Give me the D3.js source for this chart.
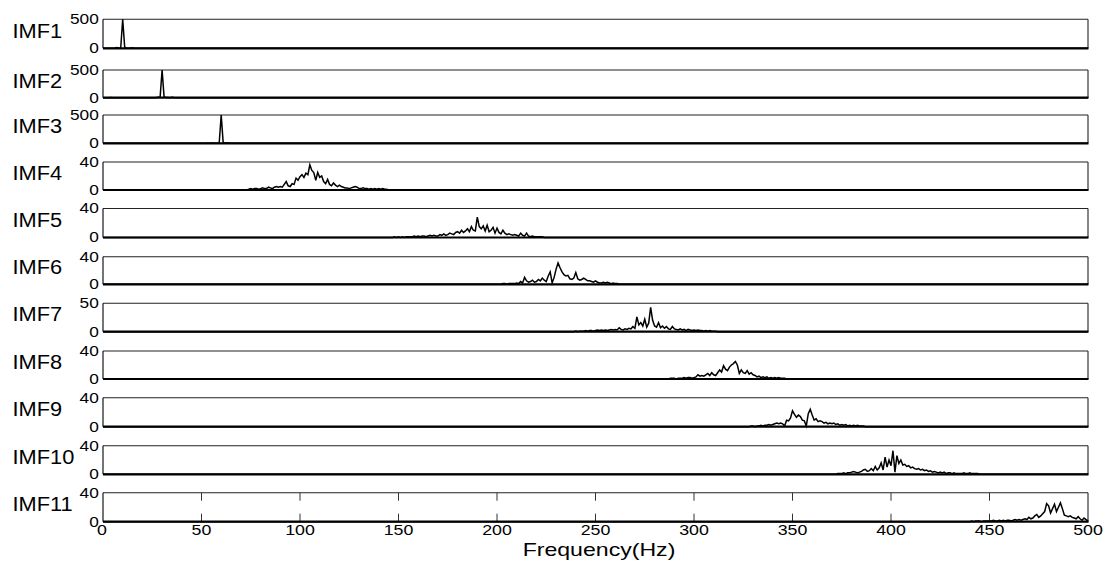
<!DOCTYPE html>
<html>
<head>
<meta charset="utf-8">
<script src="https://cdn.jsdelivr.net/npm/d3@7"></script>
<style>
  html, body { margin: 0; padding: 0; background: #fff; }
  svg { display: block; }
  text { font-family: "Liberation Sans", Arial, Helvetica, sans-serif; fill: #000; }
</style>
</head>
<body>
<svg id="chart" width="1103" height="565"></svg>
<script>
// ---------------- DATA ----------------
const imfNames = ["IMF1","IMF2","IMF3","IMF4","IMF5","IMF6","IMF7","IMF8","IMF9","IMF10","IMF11"];
const yTickTop = [500, 500, 500, 40, 40, 40, 50, 40, 40, 40, 40];
const xTicks = [0, 50, 100, 150, 200, 250, 300, 350, 400, 450, 500];
const xLabel = "Frequency(Hz)";

// spectra: start frequency (Hz) and amplitude values at 1 Hz steps (zero elsewhere)
const imf1Start = 4;
const imf1 = [0, 2, 5, 15, 5, 10, 500, 20, 3, 2, 4, 8, 3, 1, 0];
const imf2Start = 3;
const imf2 = [0, 5, 1, 0, 0, 0, 0, 0, 0, 0, 0, 0, 0, 0, 0, 0, 0, 0, 0, 0, 0, 0, 0, 1, 3, 8, 12, 500, 15, 3, 2, 1, 6, 2, 0];
const imf3Start = 51;
const imf3 = [0, 2, 6, 3, 7, 5, 2, 4, 10, 500, 12, 4, 8, 6, 2, 0];
const imf4Start = 74;
const imf4 = [1, 2, 1, 2, 2, 1, 2, 3, 2, 2, 4, 3, 2, 4, 5, 4, 5, 4, 8, 12, 6, 5, 9, 8, 17, 14, 19, 22, 18, 24,
              22, 36, 28, 25, 14, 25, 18, 20, 12, 9, 15, 8, 6, 10, 7, 5, 7, 5, 4, 3, 3, 2, 3, 4, 5, 4, 2, 2, 3, 2,
              2, 1, 2, 1, 2, 1, 2, 1, 2, 1, 1];
const imf5Start = 148;
const imf5 = [1, 0, 1, 0, 1, 0, 1, 1, 1, 1, 2, 1, 2, 1, 2, 2, 1, 2, 3, 2, 3, 2, 2, 4, 3, 5, 3, 4, 6, 5,
              4, 7, 8, 6, 10, 7, 9, 12, 8, 15, 10, 9, 28, 15, 12, 16, 9, 17, 8, 10, 14, 6, 13, 7, 5, 10, 6, 4, 5, 4,
              3, 4, 3, 2, 6, 3, 2, 6, 2, 1, 2, 1, 1, 1, 1, 1];
const imf6Start = 203;
const imf6 = [1, 1, 0, 1, 1, 1, 1, 2, 1, 4, 2, 10, 5, 3, 4, 6, 3, 4, 7, 5, 9, 6, 4, 12, 18, 2, 10, 22, 31, 24,
              18, 14, 12, 13, 8, 7, 9, 17, 8, 6, 7, 9, 7, 5, 5, 4, 3, 5, 3, 2, 2, 3, 2, 3, 2, 1, 2, 1, 1];
const imf7Start = 240;
const imf7 = [1, 0, 1, 1, 1, 2, 1, 2, 2, 1, 2, 3, 2, 3, 2, 3, 2, 3, 4, 3, 4, 3, 7, 4, 3, 5, 4, 6, 5, 9,
              6, 26, 12, 16, 10, 22, 8, 15, 43, 20, 10, 8, 16, 7, 10, 6, 9, 5, 4, 9, 5, 4, 3, 5, 3, 4, 2, 4, 3, 2,
              3, 2, 3, 2, 2, 1, 2, 1, 2, 1, 1, 1];
const imf8Start = 288;
const imf8 = [1, 1, 1, 0, 1, 1, 1, 2, 1, 2, 2, 1, 2, 3, 6, 4, 5, 4, 6, 8, 5, 9, 6, 5, 9, 13, 10, 19, 14, 12,
              17, 20, 22, 25, 20, 8, 13, 9, 8, 12, 7, 9, 6, 5, 3, 4, 2, 3, 2, 3, 1, 2, 1, 2, 1, 2, 1, 1, 1];
const imf9Start = 329;
const imf9 = [1, 1, 0, 1, 1, 2, 1, 2, 2, 3, 2, 3, 4, 5, 4, 5, 4, 1, 9, 8, 12, 22, 17, 13, 16, 14, 9, 8, 1, 18,
              24, 16, 9, 11, 7, 8, 7, 5, 6, 4, 5, 4, 5, 3, 4, 2, 3, 2, 3, 1, 2, 1, 2, 1, 2, 1, 1, 1];
const imf10Start = 373;
const imf10 = [1, 1, 1, 2, 1, 2, 2, 3, 4, 3, 2, 3, 4, 6, 7, 4, 5, 8, 5, 11, 6, 9, 16, 6, 24, 10, 20, 12, 33, 3,
               26, 15, 20, 13, 14, 11, 12, 9, 10, 8, 7, 8, 6, 7, 5, 6, 4, 5, 3, 4, 3, 2, 3, 2, 3, 1, 2, 2, 1, 2,
               1, 1, 1, 1, 2, 1, 1, 2, 1, 1, 1, 1];
const imf11Start = 441;
const imf11 = [1, 0, 1, 1, 1, 0, 1, 1, 1, 1, 1, 2, 1, 1, 2, 1, 2, 1, 2, 2, 1, 2, 3, 2, 3, 2, 3, 4, 3, 6,
               4, 5, 8, 10, 6, 8, 11, 14, 25, 22, 12, 18, 24, 14, 20, 26, 18, 9, 8, 7, 8, 6, 5, 4, 7, 4, 2, 5, 3, 1];

const spectra = [
  [imf1Start, imf1], [imf2Start, imf2], [imf3Start, imf3], [imf4Start, imf4],
  [imf5Start, imf5], [imf6Start, imf6], [imf7Start, imf7], [imf8Start, imf8],
  [imf9Start, imf9], [imf10Start, imf10], [imf11Start, imf11]
];

// ---------------- LAYOUT ----------------
const panelTop    = [19.3, 70, 115, 162, 208.5, 256.7, 303.3, 351, 397.7, 445.7, 492.7];
const panelBottom = [48.3, 97.7, 143.3, 190, 237.5, 284.3, 331.7, 379, 426.7, 474.3, 521.7];
const left = 103, right = 1088;

const svg = d3.select("#chart");
const x = d3.scaleLinear().domain([0, 500]).range([left, right]);

function buildSeries(start, vals) {
  const pts = [];
  pts.push([0, 0]);
  if (start > 0) pts.push([start - 1, 0]);
  vals.forEach((v, i) => pts.push([start + i, v]));
  const end = start + vals.length - 1;
  if (end < 500) { pts.push([end + 1, 0]); pts.push([500, 0]); }
  return pts;
}

function scaledText(g, px, py, sx, str, size, anchor) {
  g.append("g")
    .attr("transform", `translate(${px},${py}) scale(${sx},1)`)
    .append("text")
    .attr("x", 0).attr("y", 0)
    .attr("font-size", size)
    .attr("text-anchor", anchor)
    .text(str);
}

imfNames.forEach((name, i) => {
  const top = panelTop[i], bot = panelBottom[i];
  const y = d3.scaleLinear().domain([0, yTickTop[i]]).range([bot, top]);
  const g = svg.append("g");

  // box
  g.append("line").attr("x1", left).attr("x2", right).attr("y1", top).attr("y2", top)
    .attr("stroke", "#222").attr("stroke-width", 1.1);
  g.append("line").attr("x1", right).attr("x2", right).attr("y1", top).attr("y2", bot)
    .attr("stroke", "#222").attr("stroke-width", 1.1);
  g.append("line").attr("x1", left).attr("x2", left).attr("y1", top).attr("y2", bot)
    .attr("stroke", "#000").attr("stroke-width", 1.1);

  // x ticks (bottom panel shows them clearly)
  if (i === imfNames.length - 1) {
    xTicks.slice(1, -1).forEach(t => {
      g.append("line").attr("x1", x(t)).attr("x2", x(t)).attr("y1", bot).attr("y2", bot - 8)
        .attr("stroke", "#333").attr("stroke-width", 1);
      g.append("line").attr("x1", x(t)).attr("x2", x(t)).attr("y1", top).attr("y2", top + 8)
        .attr("stroke", "#333").attr("stroke-width", 1);
    });
  }

  // data
  const [start, vals] = spectra[i];
  const series = buildSeries(start, vals);
  const line = d3.line().x(d => x(d[0])).y(d => y(d[1]));
  g.append("path").datum(series).attr("d", line)
    .attr("fill", "none").attr("stroke", "#000").attr("stroke-width", 1.5)
    .attr("stroke-linejoin", "miter");

  // bottom axis line
  g.append("line").attr("x1", left).attr("x2", right + 0.5).attr("y1", bot).attr("y2", bot)
    .attr("stroke", "#000").attr("stroke-width", 2.2);

  // y tick labels
  scaledText(g, 98.8, y(yTickTop[i]) + 4.8, 1.25, String(yTickTop[i]), 13.8, "end");
  scaledText(g, 98.8, y(0) + 4.8, 1.25, "0", 13.8, "end");

  // IMF label
  scaledText(g, 12.5, (top + bot) / 2 + 3.8, 1.13, name, 19.3, "start");
});

// x tick labels
xTicks.forEach(t => {
  scaledText(svg, x(t) - (t === 0 ? 1 : 0), 535, 1.27, String(t), 14, "middle");
});

// x axis label
scaledText(svg, 599, 555.5, 1.32, xLabel, 17.5, "middle");
</script>
</body>
</html>
